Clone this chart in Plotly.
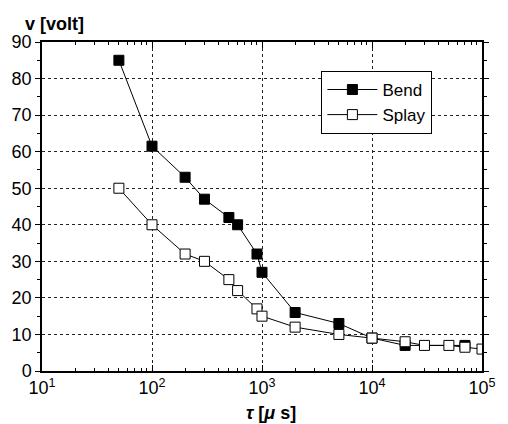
import plotly.graph_objects as go

tau_bend = [50, 100, 200, 300, 500, 600, 900, 1000, 2000, 5000, 10000, 20000, 70000]
v_bend = [85, 61.5, 53, 47, 42, 40, 32, 27, 16, 13, 9, 7, 7]
tau_splay = [50, 100, 200, 300, 500, 600, 900, 1000, 2000, 5000, 10000, 20000, 30000, 50000, 70000, 100000]
v_splay = [50, 40, 32, 30, 25, 22, 17, 15, 12, 10, 9, 8, 7, 7, 6.5, 6]
x_tickvals = [10, 100, 1000, 10000, 100000]
x_ticktext = ["10<sup>1</sup>", "10<sup>2</sup>", "10<sup>3</sup>", "10<sup>4</sup>", "10<sup>5</sup>"]

FONT = "Liberation Sans, Arial, sans-serif"

fig = go.Figure()
fig.add_trace(go.Scatter(x=tau_bend, y=v_bend, mode="lines+markers", name="Bend",
                         line=dict(color="black", width=1),
                         marker=dict(symbol="square", size=10, color="black",
                                     line=dict(color="black", width=1))))
fig.add_trace(go.Scatter(x=tau_splay, y=v_splay, mode="lines+markers", name="Splay",
                         line=dict(color="black", width=1),
                         marker=dict(symbol="square", size=10, color="white",
                                     line=dict(color="black", width=1))))

fig.update_layout(
    width=508, height=424,
    margin=dict(l=42, r=18, t=42, b=53),
    paper_bgcolor="white", plot_bgcolor="white",
    font=dict(family=FONT, size=18, color="black"),
    showlegend=True,
    legend=dict(x=0.635, y=0.912, xanchor="left", yanchor="top",
                bgcolor="white", bordercolor="black", borderwidth=1,
                font=dict(size=17), tracegroupgap=0, itemwidth=50),
    xaxis=dict(type="log", range=[1, 5], tickvals=x_tickvals, ticktext=x_ticktext,
               showline=True, linecolor="black", linewidth=1.5, mirror="allticks",
               ticks="inside", ticklen=6, tickcolor="black",
               minor=dict(ticks="inside", ticklen=3, tickcolor="black", dtick="D1", showgrid=False),
               showgrid=True, gridcolor="#222", griddash="dot", gridwidth=1,
               zeroline=False, tickfont=dict(size=18)),
    yaxis=dict(range=[0, 90], dtick=10,
               showline=True, linecolor="black", linewidth=1.5, mirror="allticks",
               ticks="outside", ticklen=5, tickcolor="black",
               minor=dict(ticks="outside", ticklen=3, tickcolor="black", dtick=5, showgrid=False),
               showgrid=True, gridcolor="#222", griddash="dot", gridwidth=1,
               zeroline=False, tickfont=dict(size=18)),
    annotations=[
        dict(text="<b>v [volt]</b>", x=-0.044, y=1.056, xref="paper", yref="paper",
             xanchor="left", yanchor="middle", showarrow=False, font=dict(size=18)),
        dict(text="<b><i>τ</i> [<i>μ</i> s]</b>", x=0.52, y=-0.128, xref="paper", yref="paper",
             xanchor="center", yanchor="middle", showarrow=False, font=dict(size=18)),
    ],
)

fig.write_html("out.html")
